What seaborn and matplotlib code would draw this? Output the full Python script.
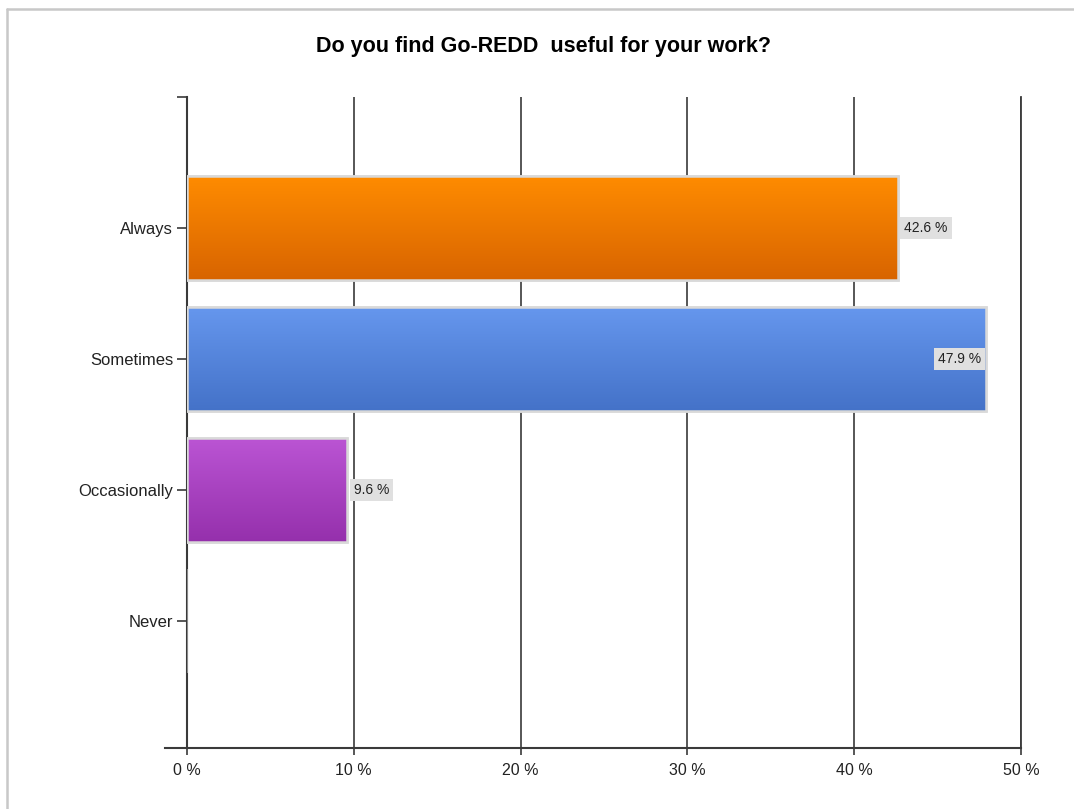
import numpy as np
import pandas as pd
import seaborn as sns
import matplotlib.pyplot as plt
from matplotlib.colors import LinearSegmentedColormap
from matplotlib.patches import Rectangle

# data
categories = ["Always", "Sometimes", "Occasionally", "Never"]
percent = [42.6, 47.9, 9.6, 0.0]
top_colors = ["#FF8C00", "#6697EE", "#BB55D4", "#7F7F7F"]
bottom_colors = ["#D86400", "#4472C8", "#9530AC", "#7F7F7F"]
title = "Do you find Go-REDD  useful for your work?"

df = pd.DataFrame({"answer": categories, "pct": percent})

sns.set_theme(style="white")
plt.rcParams["font.family"] = ["Liberation Sans", "DejaVu Sans"]

fig = plt.figure(figsize=(10.74, 8.09), dpi=100)
ax = fig.add_axes([0.1741, 0.0754, 0.7766, 0.8047])

sns.barplot(data=df, x="pct", y="answer", hue="answer", palette=top_colors,
            order=categories, legend=False, width=0.8, ax=ax,
            edgecolor="#D9D9D9", linewidth=1.8, zorder=3)

ax.set_xlim(0, 50)
ax.set_ylim(3.97, -1)

# vertical gradient on each bar
for patch, c_top, c_bot in zip(ax.patches, top_colors, bottom_colors):
    w = patch.get_width()
    if w <= 0:
        patch.set_edgecolor("#9A9A9A")
        patch.set_linewidth(1.2)
        continue
    x0, y0 = patch.get_x(), patch.get_y()
    h = patch.get_height()
    cmap = LinearSegmentedColormap.from_list("g", [c_top, c_bot])
    grad = np.linspace(0, 1, 256).reshape(-1, 1)
    im = ax.imshow(grad, cmap=cmap, aspect="auto", extent=(x0, x0 + w, y0 + h, y0),
                   origin="upper", zorder=3.5, interpolation="bilinear")
    im.set_clip_path(patch)
    ax.add_patch(Rectangle((x0, y0), w, h, fill=False, edgecolor="#D9D9D9",
                           linewidth=1.8, zorder=4))

ax.set_xlim(0, 50)
ax.set_ylim(3.97, -1)

# value labels
for i, v in enumerate(percent):
    if v <= 0:
        continue
    txt = f"{v:.1f} %"
    if v > 45:
        ax.text(v - 0.3, i, txt, ha="right", va="center", fontsize=10, color="#222222",
                zorder=6, bbox=dict(boxstyle="square,pad=0.3", fc="#E0E0E0", ec="none"))
    else:
        ax.text(v + 0.4, i, txt, ha="left", va="center", fontsize=10, color="#222222",
                zorder=6, bbox=dict(boxstyle="square,pad=0.3", fc="#E0E0E0", ec="none"))

# axes styling
line_c = "#3A3A3A"
ax.set_xticks(range(0, 51, 10))
ax.set_xticklabels([f"{t} %" for t in range(0, 51, 10)], fontsize=11.5, color="#222222")
ax.set_yticks(range(len(categories)))
ax.set_yticklabels(categories, fontsize=12, color="#222222")
ax.set_yticks([-1], minor=True)
ax.tick_params(axis="x", which="major", direction="out", length=5, width=1.2,
               color=line_c, bottom=True, pad=6)
ax.tick_params(axis="y", which="both", direction="out", length=7, width=1.2,
               color=line_c, left=True, pad=3)
ax.grid(axis="x", color=line_c, linewidth=1.2, zorder=1)
ax.set_axisbelow(True)
ax.set_xlabel("")
ax.set_ylabel("")
ax.spines["top"].set_visible(False)
for side in ["left", "bottom", "right"]:
    ax.spines[side].set_color(line_c)
    ax.spines[side].set_linewidth(1.5)
ax.spines["right"].set_linewidth(1.3)
ax.spines["bottom"].set_bounds(-1.3, 50)
ax.spines["left"].set_bounds(3.97, -1)

fig.text(0.506, 0.943, title, ha="center", va="center", fontsize=15.5,
         fontweight="bold", color="#000000")

# light frame at top/left of the image
fig.add_artist(plt.Line2D([0.0065, 1.0], [0.9889, 0.9889], color="#C8C8C8",
                          linewidth=1.8, transform=fig.transFigure))
fig.add_artist(plt.Line2D([0.0065, 0.0065], [0.0, 0.9889], color="#C8C8C8",
                          linewidth=1.8, transform=fig.transFigure))

fig.savefig("out.png", dpi=100, facecolor="white")
